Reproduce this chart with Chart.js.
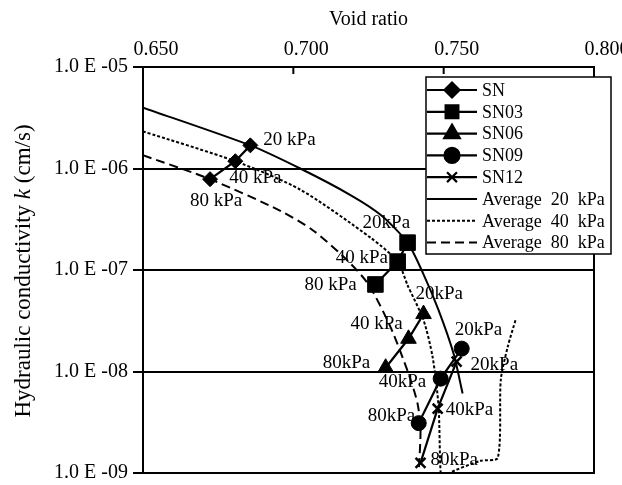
<!DOCTYPE html>
<html>
<head>
<meta charset="utf-8">
<script src="https://cdn.jsdelivr.net/npm/chart.js@4.4.1/dist/chart.umd.min.js"></script>
<style>
  html, body { margin: 0; padding: 0; background: #fff; }
</style>
</head>
<body>
<canvas id="myChart" width="622" height="485"></canvas>
<script>
// Void ratio (x) and hydraulic conductivity k in cm/s (y)
const xTicks = [0.65, 0.70, 0.75, 0.80];
const yTicks = [1e-9, 1e-8, 1e-7, 1e-6, 1e-5];

// measured points, in order 20 / 40 / 80 kPa
const snE = [0.6857, 0.6807, 0.6723];
const snK = [1.69e-6, 1.18e-6, 7.85e-7];
const sn03E = [0.7380, 0.7347, 0.7273];
const sn03K = [1.86e-7, 1.21e-7, 7.2e-8];
const sn06E = [0.7433, 0.7383, 0.7307];
const sn06K = [3.68e-8, 2.1e-8, 1.09e-8];
const sn09E = [0.7560, 0.7490, 0.7417];
const sn09K = [1.68e-8, 8.5e-9, 3.1e-9];
const sn12E = [0.7543, 0.7480, 0.7423];
const sn12K = [1.25e-8, 4.3e-9, 1.26e-9];

// average curves
const avg20E = [0.650, 0.6857, 0.7023, 0.7190, 0.7290, 0.7380, 0.7433, 0.7483, 0.7533, 0.7563];
const avg20K = [3.98e-6, 1.69e-6, 1.0e-6, 5.48e-7, 3.5e-7, 1.86e-7, 9.06e-8, 4.03e-8, 1.5e-8, 6.08e-9];
const avg40E = [0.650, 0.6807, 0.7023, 0.7257, 0.7347, 0.7380, 0.7433, 0.7463, 0.7483, 0.7490, 0.7500, 0.7513, 0.7623, 0.7680, 0.7690, 0.7713, 0.7740];
const avg40K = [2.32e-6, 1.18e-6, 6.2e-7, 2.08e-7, 1.21e-7, 7.08e-8, 3.21e-8, 1.4e-8, 4.54e-9, 1.0e-9, 8.3e-10, 9.8e-10, 1.32e-9, 1.41e-9, 8.3e-9, 1.75e-8, 3.29e-8];
const avg80E = [0.650, 0.6723, 0.6957, 0.7067, 0.7180, 0.7250, 0.7323, 0.7383, 0.7413, 0.7423, 0.7417];
const avg80K = [1.35e-6, 7.85e-7, 3.83e-7, 2.44e-7, 1.24e-7, 7.2e-8, 2.75e-8, 9.55e-9, 4.85e-9, 2.7e-9, 1.0e-9];

// text next to each measured point
const snLabels = ['20 kPa', '40 kPa', '80 kPa'];
const sn03Labels = ['20kPa', '40 kPa', '80 kPa'];
const sn06Labels = ['20kPa', '40 kPa', '80kPa'];
const sn09Labels = ['20kPa', '40kPa', '80kPa'];
const sn12Labels = ['20kPa', '40kPa', '80kPa'];

const serif = "'Liberation Serif', 'Times New Roman', serif";

function pts(xs, ys) {
    return xs.map((x, i) => ({ x: x, y: ys[i] }));
}

function measured(label, xs, ys, style, radius, texts, offsets) {
    return {
        label: label,
        data: pts(xs, ys),
        showLine: true,
        borderColor: '#000',
        backgroundColor: '#000',
        borderWidth: 2.2,
        pointStyle: style,
        pointRadius: radius,
        pointBorderWidth: style === 'crossRot' ? 2.5 : 1,
        pointBorderColor: '#000',
        pointBackgroundColor: '#000',
        texts: texts,
        textOffsets: offsets
    };
}

function average(label, xs, ys, dash) {
    return {
        label: label,
        data: pts(xs, ys),
        showLine: true,
        borderColor: '#000',
        borderWidth: 2,
        borderDash: dash,
        pointRadius: 0,
        tension: 0.25
    };
}

// where each pressure label sits relative to its point (text left, text middle)
const datasets = [
    measured('SN', snE, snK, 'rectRot', 7.5, snLabels, [[13, -5], [-6, 17], [-20, 22]]),
    measured('SN03', sn03E, sn03K, 'rect', 11, sn03Labels, [[-45, -20], [-62, -4], [-71, 1]]),
    measured('SN06', sn06E, sn06K, 'triangle', 9, sn06Labels, [[-8, -20], [-58, -15], [-63, -5]]),
    measured('SN09', sn09E, sn09K, 'circle', 7.5, sn09Labels, [[-7, -19], [-62, 3], [-51, -7]]),
    measured('SN12', sn12E, sn12K, 'crossRot', 7, sn12Labels, [[14, 3], [8, 1], [10, -3]]),
    average('Average  20  kPa', avg20E, avg20K, []),
    average('Average  40  kPa', avg40E, avg40K, [3, 2]),
    average('Average  80  kPa', avg80E, avg80K, [9, 5])
];

const figurePlugin = {
    id: 'figure',
    beforeDatasetsDraw(chart) {
        const ctx = chart.ctx;
        ctx.save();
        ctx.fillStyle = '#000';
        ctx.font = '19px ' + serif;
        ctx.textAlign = 'left';
        ctx.textBaseline = 'middle';
        chart.data.datasets.forEach((ds, i) => {
            if (!ds.texts) return;
            const meta = chart.getDatasetMeta(i);
            meta.data.forEach((pt, j) => {
                const off = ds.textOffsets[j];
                ctx.fillText(ds.texts[j], pt.x + off[0], pt.y + off[1]);
            });
        });
        ctx.restore();
    },
    afterDatasetsDraw(chart) {
        const ctx = chart.ctx;
        const area = chart.chartArea;
        const xs = chart.scales.x;
        ctx.save();

        // frame
        ctx.strokeStyle = '#000';
        ctx.lineWidth = 2;
        ctx.setLineDash([]);
        ctx.strokeRect(area.left, area.top, area.right - area.left, area.bottom - area.top);

        // inward tick marks on the top axis
        xTicks.slice(1, -1).forEach(v => {
            const px = xs.getPixelForValue(v);
            ctx.beginPath();
            ctx.moveTo(px, area.top);
            ctx.lineTo(px, area.top + 7);
            ctx.stroke();
        });

        // legend
        const box = { left: 426, top: 77, right: 611, bottom: 254, row0: 90, gap: 21.8, x0: 427, x1: 477, tx: 482 };
        ctx.fillStyle = '#fff';
        ctx.fillRect(box.left, box.top, box.right - box.left, box.bottom - box.top);
        ctx.lineWidth = 1.5;
        ctx.strokeRect(box.left, box.top, box.right - box.left, box.bottom - box.top);
        ctx.font = '18px ' + serif;
        ctx.textAlign = 'left';
        ctx.textBaseline = 'middle';
        chart.data.datasets.forEach((ds, i) => {
            const y = box.row0 + i * box.gap;
            ctx.strokeStyle = '#000';
            ctx.lineWidth = ds.borderWidth;
            ctx.setLineDash(ds.borderDash || []);
            ctx.beginPath();
            ctx.moveTo(box.x0, y);
            ctx.lineTo(box.x1, y);
            ctx.stroke();
            ctx.setLineDash([]);
            if (ds.pointRadius > 0) {
                ctx.fillStyle = '#000';
                Chart.helpers.drawPoint(ctx, {
                    pointStyle: ds.pointStyle,
                    radius: ds.pointStyle === 'rect' ? 9 : ds.pointRadius,
                    rotation: 0,
                    borderWidth: ds.pointBorderWidth
                }, (box.x0 + box.x1) / 2, y);
            }
            ctx.fillStyle = '#000';
            ctx.fillText(ds.label, box.tx, y + 1);
        });

        // y axis title with italic k
        const parts = [['Hydraulic conductivity ', ''], ['k', 'italic '], [' (cm/s)', '']];
        ctx.translate(24, 271);
        ctx.rotate(-Math.PI / 2);
        let total = 0;
        parts.forEach(p => { ctx.font = p[1] + '23px ' + serif; total += ctx.measureText(p[0]).width; });
        let cx = -total / 2;
        ctx.textAlign = 'left';
        parts.forEach(p => {
            ctx.font = p[1] + '23px ' + serif;
            ctx.fillText(p[0], cx, 0);
            cx += ctx.measureText(p[0]).width;
        });
        ctx.restore();
    }
};

const ctx = document.getElementById('myChart').getContext('2d');
const myChart = new Chart(ctx, {
    type: 'scatter',
    data: { datasets: datasets },
    plugins: [figurePlugin],
    options: {
        responsive: false,
        animation: false,
        devicePixelRatio: 1,
        layout: { padding: { left: 0, right: 28, top: 0, bottom: 8 } },
        plugins: {
            legend: { display: false },
            tooltip: { enabled: false }
        },
        scales: {
            x: {
                type: 'linear',
                position: 'top',
                min: 0.65,
                max: 0.80,
                afterBuildTicks: axis => { axis.ticks = xTicks.map(v => ({ value: v })); },
                afterFit: axis => { axis.height = 67; axis.paddingLeft = 0; axis.paddingRight = 0; },
                ticks: {
                    color: '#000',
                    font: { family: serif, size: 20 },
                    padding: 5,
                    labelOffset: 13,
                    maxRotation: 0,
                    callback: v => v.toFixed(3)
                },
                grid: { display: false, drawTicks: false },
                border: { display: true, color: '#000', width: 2 },
                title: {
                    display: true,
                    text: 'Void ratio',
                    color: '#000',
                    font: { family: serif, size: 20 },
                    padding: { top: 8, bottom: 0 }
                }
            },
            y: {
                type: 'logarithmic',
                min: 1e-9,
                max: 1e-5,
                afterBuildTicks: axis => { axis.ticks = yTicks.map(v => ({ value: v })); },
                afterFit: axis => { axis.width = 143; axis.paddingTop = 0; axis.paddingBottom = 0; },
                ticks: {
                    color: '#000',
                    font: { family: serif, size: 20 },
                    padding: 5,
                    callback: v => {
                        const p = Math.round(-Math.log10(v));
                        return '1.0 E -' + String(p).padStart(2, '0');
                    }
                },
                grid: { color: '#000', lineWidth: 2, tickLength: 10, drawTicks: true },
                border: { display: true, color: '#000', width: 2 }
            }
        }
    }
});
</script>
</body>
</html>
